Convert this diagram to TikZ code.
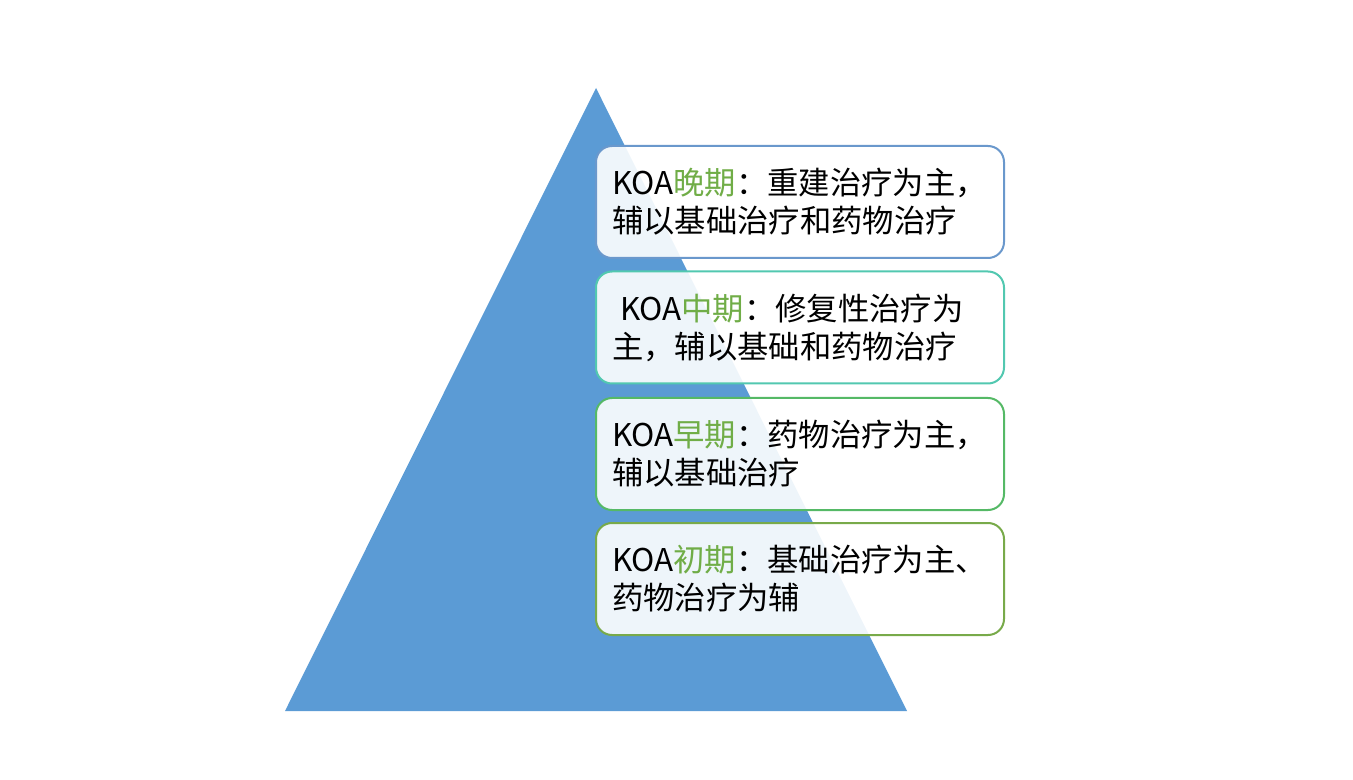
\documentclass[tikz,border=0pt]{standalone}
\usepackage{fontspec}
\setmainfont{Noto Sans CJK SC}
\definecolor{pyramid}{HTML}{5B9BD5}
\definecolor{stagegreen}{HTML}{70AD47}
\definecolor{lateline}{HTML}{6A98CC}
\definecolor{midline}{HTML}{52C8B0}
\definecolor{earlyline}{HTML}{55B966}
\definecolor{initline}{HTML}{78AA4A}
\tikzset{
  stagebox/.style={draw,line width=1.5pt,rounded corners=12pt,fill=white,fill opacity=0.9,text opacity=1,
    minimum width=306pt,minimum height=84pt,text width=282pt,inner xsep=12pt,align=left,
    font=\fontsize{23.5pt}{28.5pt}\selectfont},
  stage/.style={text=stagegreen}
}
\begin{document}
\begin{tikzpicture}[x=0.75pt,y=-0.75pt]
\useasboundingbox (0,0) rectangle (1353,780);
\coordinate (top) at (596,88);
\coordinate (left) at (285,711);
\coordinate (right) at (907,711);
\filldraw[fill=pyramid,draw=none](top)--(left)--(right)--cycle;
\node[stagebox,draw=lateline] (late) at (800,202) {KOA{\color{stagegreen}晚期}：重建治疗为主，\\辅以基础治疗和药物治疗};
\node[stagebox,draw=midline] (mid) at (800,327.5) {\hspace*{6pt}KOA{\color{stagegreen}中期}：修复性治疗为\\主，辅以基础和药物治疗};
\node[stagebox,draw=earlyline] (early) at (800,454) {KOA{\color{stagegreen}早期}：药物治疗为主，\\辅以基础治疗};
\node[stagebox,draw=initline] (init) at (800,579) {KOA{\color{stagegreen}初期}：基础治疗为主、\\药物治疗为辅};
\end{tikzpicture}
\end{document}
